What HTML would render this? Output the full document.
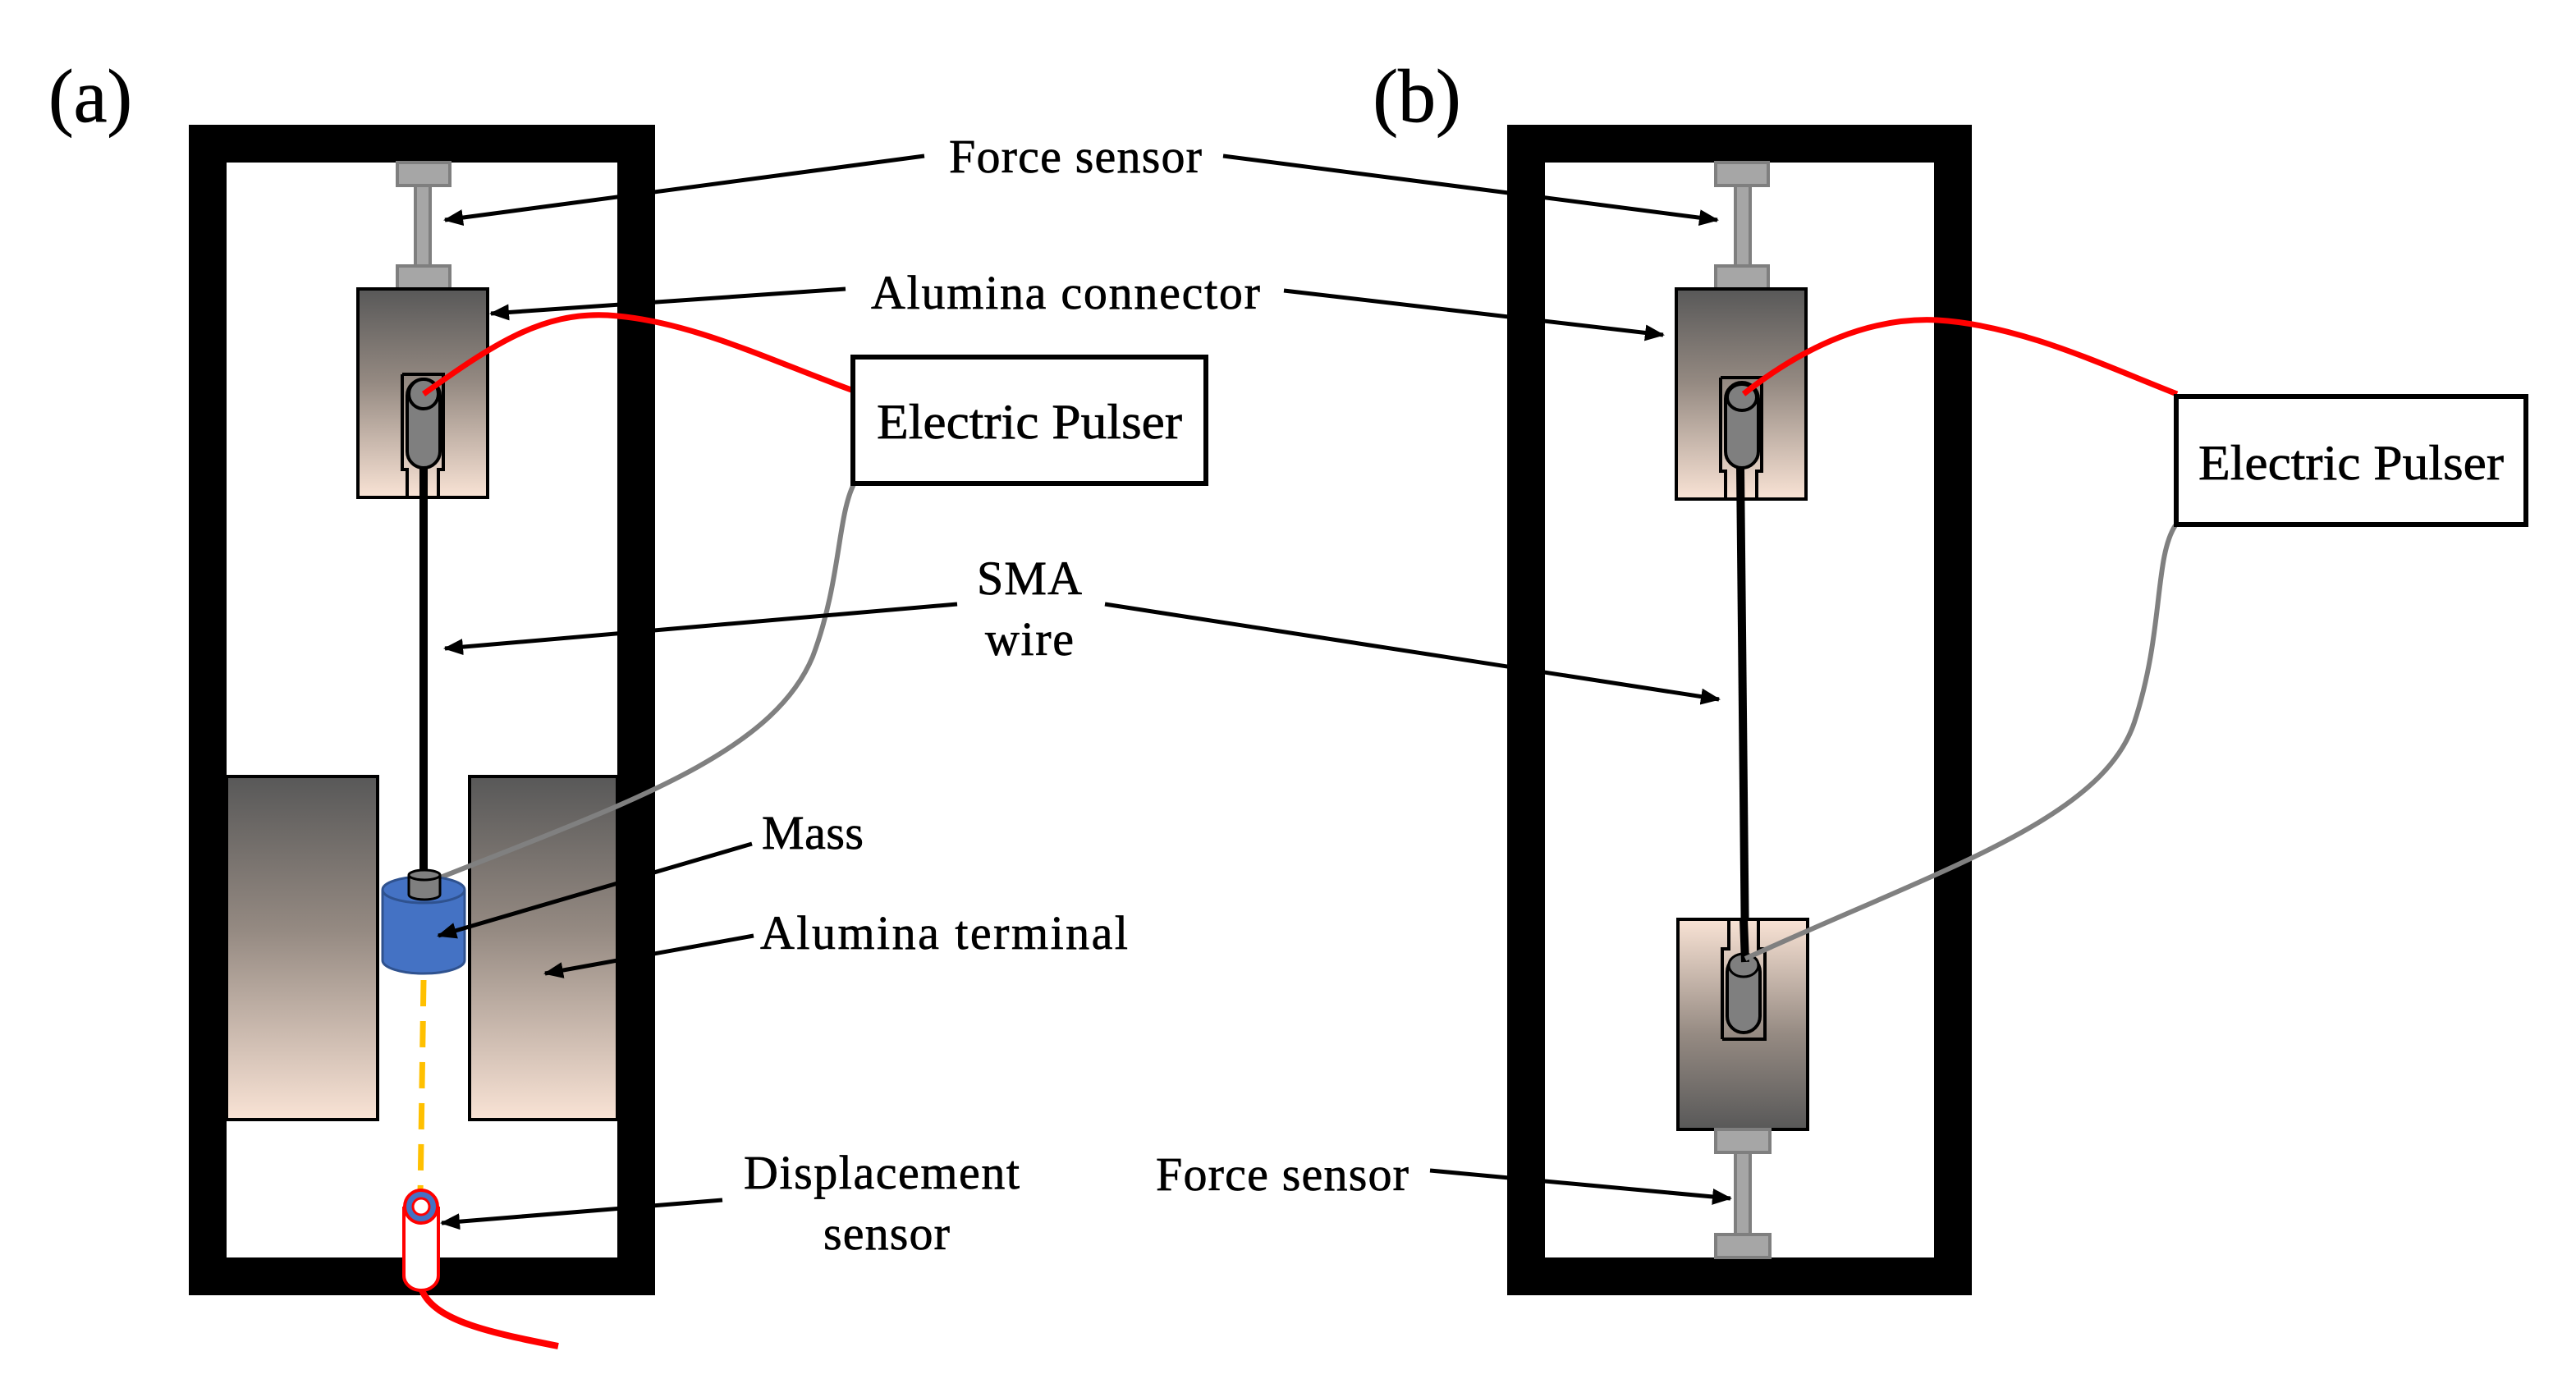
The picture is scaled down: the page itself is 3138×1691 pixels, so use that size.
<!DOCTYPE html>
<html><head><meta charset="utf-8"><style>
html,body{margin:0;padding:0;background:#fff}
svg{display:block}
text{font-family:"Liberation Serif",serif;fill:#000;stroke:#000;stroke-width:0.35}
</style></head><body>
<svg width="3138" height="1691" viewBox="0 0 1569 845.5" xmlns="http://www.w3.org/2000/svg">
<defs>
<linearGradient id="gd" x1="0" y1="0" x2="0" y2="1"><stop offset="0" stop-color="#585858"/><stop offset="0.45" stop-color="#958a82"/><stop offset="1" stop-color="#f9e3d5"/></linearGradient>
<linearGradient id="gu" x1="0" y1="1" x2="0" y2="0"><stop offset="0" stop-color="#585858"/><stop offset="0.45" stop-color="#958a82"/><stop offset="1" stop-color="#f9e3d5"/></linearGradient>
<marker id="ah" markerWidth="12" markerHeight="10" refX="11" refY="5" orient="auto" markerUnits="userSpaceOnUse"><path d="M0,0 L12,5 L0,10 Z" fill="#000"/></marker>
</defs>

<rect x="126.5" y="87.5" width="261" height="690" fill="none" stroke="#000" stroke-width="23"/>
<rect x="929.5" y="87.5" width="260" height="690" fill="none" stroke="#000" stroke-width="23"/>

<text x="55" y="74" font-size="46" text-anchor="middle">(a)</text>
<text x="863" y="74" font-size="46" text-anchor="middle">(b)</text>

<g fill="#a6a6a6" stroke="#7f7f7f" stroke-width="2">
<rect x="253" y="112" width="9" height="51"/>
<rect x="242" y="99" width="32" height="14"/>
<rect x="242" y="162" width="32" height="14"/>
</g>
<rect x="218" y="176" width="79" height="127" fill="url(#gd)" stroke="#000" stroke-width="2"/>
<path d="M245,228 H270 V286 H267 V303 M245,228 V286 H248 V303" fill="none" stroke="#000" stroke-width="2"/>
<rect x="248" y="231" width="20" height="54" rx="10" fill="#7f7f7f" stroke="#000" stroke-width="2"/>
<ellipse cx="258" cy="240" rx="9" ry="9" fill="#7f7f7f" stroke="#000" stroke-width="2"/>
<line x1="258" y1="285" x2="258" y2="535" stroke="#000" stroke-width="5"/>

<rect x="138" y="473" width="92" height="209" fill="url(#gd)" stroke="#000" stroke-width="2"/>
<rect x="286" y="473" width="90" height="209" fill="url(#gd)" stroke="#000" stroke-width="2"/>

<path d="M262,537 C380,490 470,460 495,400 C512,355 510,315 520,295" fill="none" stroke="#808080" stroke-width="3"/>

<path d="M233,542 V585 A25,8 0 0 0 283,585 V542" fill="#4472c4" stroke="#2f528f" stroke-width="1.5"/>
<ellipse cx="258" cy="542" rx="25" ry="8" fill="#4472c4" stroke="#2f528f" stroke-width="1.5"/>
<path d="M249,533 V545 A9.5,3 0 0 0 268,545 V533" fill="#7f7f7f" stroke="#000" stroke-width="1.5"/>
<ellipse cx="258.5" cy="533" rx="9.5" ry="3" fill="#7f7f7f" stroke="#000" stroke-width="1.5"/>

<line x1="258" y1="597" x2="256" y2="728" stroke="#ffc000" stroke-width="3.5" stroke-dasharray="16,9"/>

<path d="M340,820 C300,812 265,805 257,786" fill="none" stroke="#f00" stroke-width="4"/>
<path d="M246,735 V777 A10.5,9 0 0 0 267,777 V735" fill="#fff" stroke="#f00" stroke-width="2"/>
<circle cx="256.5" cy="735" r="10" fill="#4472c4" stroke="#f00" stroke-width="2"/>
<circle cx="256.5" cy="735" r="5" fill="#fff" stroke="#f00" stroke-width="1.5"/>

<path d="M258,240 C300,210 330,190 370,192 C420,195 470,220 520,238" fill="none" stroke="#f00" stroke-width="3.5"/>

<rect x="519.5" y="217.5" width="215" height="77" fill="#fff" stroke="#000" stroke-width="3"/>
<text x="627" y="267" font-size="30" text-anchor="middle" textLength="186" lengthAdjust="spacingAndGlyphs">Electric Pulser</text>

<g fill="#a6a6a6" stroke="#7f7f7f" stroke-width="2">
<rect x="1057" y="112" width="9" height="51"/>
<rect x="1045" y="99" width="32" height="14"/>
<rect x="1045" y="162" width="32" height="14"/>
</g>
<rect x="1021" y="176" width="79" height="128" fill="url(#gd)" stroke="#000" stroke-width="2"/>
<path d="M1048,230 H1073 V287 H1070 V304 M1048,230 V287 H1051 V304" fill="none" stroke="#000" stroke-width="2"/>
<rect x="1051" y="233" width="20" height="52" rx="10" fill="#7f7f7f" stroke="#000" stroke-width="2"/>
<ellipse cx="1061" cy="242" rx="9" ry="8" fill="#7f7f7f" stroke="#000" stroke-width="2"/>

<line x1="1060" y1="285" x2="1063" y2="582" stroke="#000" stroke-width="5"/>

<rect x="1022" y="560" width="79" height="128" fill="url(#gu)" stroke="#000" stroke-width="2"/>
<path d="M1049,633 H1075 V578 H1071 V560 M1049,633 V578 H1053 V560" fill="none" stroke="#000" stroke-width="2"/>
<rect x="1052" y="582" width="20" height="47" rx="10" fill="#7f7f7f" stroke="#000" stroke-width="2"/>
<ellipse cx="1062" cy="588" rx="9" ry="7" fill="#7f7f7f" stroke="#000" stroke-width="1.5"/>
<line x1="1062" y1="560" x2="1063" y2="586" stroke="#000" stroke-width="5"/>
<g fill="#a6a6a6" stroke="#7f7f7f" stroke-width="2">
<rect x="1057" y="701" width="9" height="52"/>
<rect x="1045" y="688" width="33" height="14"/>
<rect x="1045" y="752" width="33" height="14"/>
</g>

<path d="M1063,584 C1180,530 1280,500 1300,440 C1318,385 1312,340 1325,320" fill="none" stroke="#808080" stroke-width="3"/>
<path d="M1062,240 C1100,210 1140,193 1180,195 C1230,198 1280,222 1326,240" fill="none" stroke="#f00" stroke-width="3.5"/>

<rect x="1325.5" y="241.5" width="213" height="78" fill="#fff" stroke="#000" stroke-width="3"/>
<text x="1432" y="292" font-size="30" text-anchor="middle" textLength="186" lengthAdjust="spacingAndGlyphs">Electric Pulser</text>

<g font-size="29" text-anchor="middle" lengthAdjust="spacingAndGlyphs">
<text x="655" y="105" textLength="154">Force sensor</text>
<text x="649" y="188" textLength="237">Alumina connector</text>
<text x="627" y="362" textLength="64">SMA</text>
<text x="627" y="399" textLength="54">wire</text>
<text x="495" y="517" textLength="62">Mass</text>
<text x="575" y="578" textLength="224">Alumina terminal</text>
<text x="537" y="724" textLength="168">Displacement</text>
<text x="540" y="761" textLength="77">sensor</text>
<text x="781" y="725" textLength="154">Force sensor</text>
</g>

<g stroke="#000" stroke-width="2.5" fill="none" marker-end="url(#ah)">
<line x1="563" y1="95" x2="271" y2="134"/>
<line x1="745" y1="95" x2="1046" y2="134"/>
<line x1="515" y1="176" x2="299" y2="191"/>
<line x1="782" y1="177" x2="1013" y2="204"/>
<line x1="583" y1="368" x2="271" y2="395"/>
<line x1="673" y1="368" x2="1047" y2="426"/>
<line x1="458" y1="514" x2="267" y2="570"/>
<line x1="459" y1="570" x2="332" y2="593"/>
<line x1="440" y1="731" x2="269" y2="745"/>
<line x1="871" y1="713" x2="1054" y2="730"/>
</g>
</svg>
</body></html>
